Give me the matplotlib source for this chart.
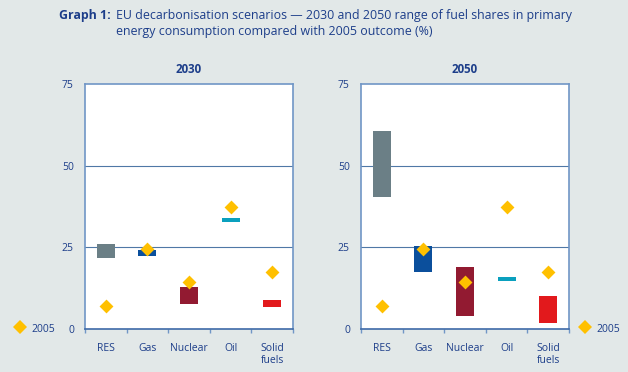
import numpy as np
import matplotlib.pyplot as plt
from matplotlib.lines import Line2D

# Fuel share ranges (%) by scenario year, plus 2005 outcome
fuels = ['RES', 'Gas', 'Nuclear', 'Oil', 'Solid\nfuels']
low_2030 = [21.8, 22.4, 7.7, 32.8, 6.8]
high_2030 = [26.1, 24.3, 12.9, 34.0, 9.0]
low_2050 = [40.3, 17.5, 4.1, 14.8, 1.9]
high_2050 = [60.7, 25.5, 19.1, 16.0, 10.2]
outcome_2005 = [6.9, 24.5, 14.3, 37.2, 17.5]

colors = ['#6b7f86', '#0b4f9c', '#921a31', '#0aa0be', '#e2191c']
navy = '#1d3e8a'
axis_blue = '#7096c6'
bg = '#e2e8e8'

plt.rcParams['font.family'] = ['Open Sans', 'DejaVu Sans']

fig = plt.figure(figsize=(6.28, 3.72), dpi=100, facecolor=bg)

fig.text(111 / 628, 1 - 15 / 372, 'Graph 1:', fontsize=8.9, fontweight='bold',
         color=navy, va='center', ha='right')
fig.text(116 / 628, 1 - 15 / 372,
         'EU decarbonisation scenarios \u2014 2030 and 2050 range of fuel shares in primary',
         fontsize=8.9, color=navy, va='center')
fig.text(116 / 628, 1 - 31 / 372,
         'energy consumption compared with 2005 outcome (%)',
         fontsize=8.9, color=navy, va='center')

panels = [
    ('2030', low_2030, high_2030, 85),
    ('2050', low_2050, high_2050, 361),
]

x = np.arange(len(fuels)) + 0.5
for title, low, high, left in panels:
    ax = fig.add_axes([left / 628, 1 - 329 / 372, 208 / 628, 245 / 372])
    ax.set_facecolor('white')
    heights = np.array(high) - np.array(low)
    ax.bar(x, heights, bottom=low, width=0.43, color=colors, zorder=2)
    ax.scatter(x, outcome_2005, marker='D', s=50, color='#ffc000', zorder=3,
               linewidths=0)
    ax.set_xlim(0, 5)
    ax.set_ylim(0, 75)
    ax.set_yticks([0, 25, 50, 75])
    ax.set_xticks(np.arange(6))
    ax.set_xticklabels([])
    ax.set_xticks(x, minor=True)
    ax.set_xticklabels(fuels, minor=True, linespacing=1.1)
    ax.tick_params(axis='x', which='minor', length=0, pad=10,
                   labelsize=7.5, labelcolor=navy)
    ax.tick_params(axis='x', which='major', length=3, width=1,
                   color=axis_blue, direction='out')
    ax.tick_params(axis='y', length=0, labelsize=7.5, labelcolor=navy, pad=8)
    for y in (25, 50):
        ax.axhline(y, color='#4f78a6', linewidth=0.8, zorder=1)
    for s in ax.spines.values():
        s.set_color(axis_blue)
        s.set_linewidth(1.2)
    ax.spines['bottom'].set_color('#3e6aa8')
    ax.set_title(title, fontsize=8.3, fontweight='bold', color=navy, pad=8)

# Legend markers for 2005 outcome
for lx, tx in ((20, 31), (585, 596)):
    fig.add_artist(Line2D([lx / 628], [1 - 327 / 372], marker='D',
                          markersize=7.5, color='#ffc000', linestyle='none',
                          markeredgewidth=0))
    fig.text(tx / 628, 1 - 330 / 372, '2005', fontsize=7.5, color=navy,
             va='center')

fig.savefig('out.png', dpi=100, facecolor=bg)
